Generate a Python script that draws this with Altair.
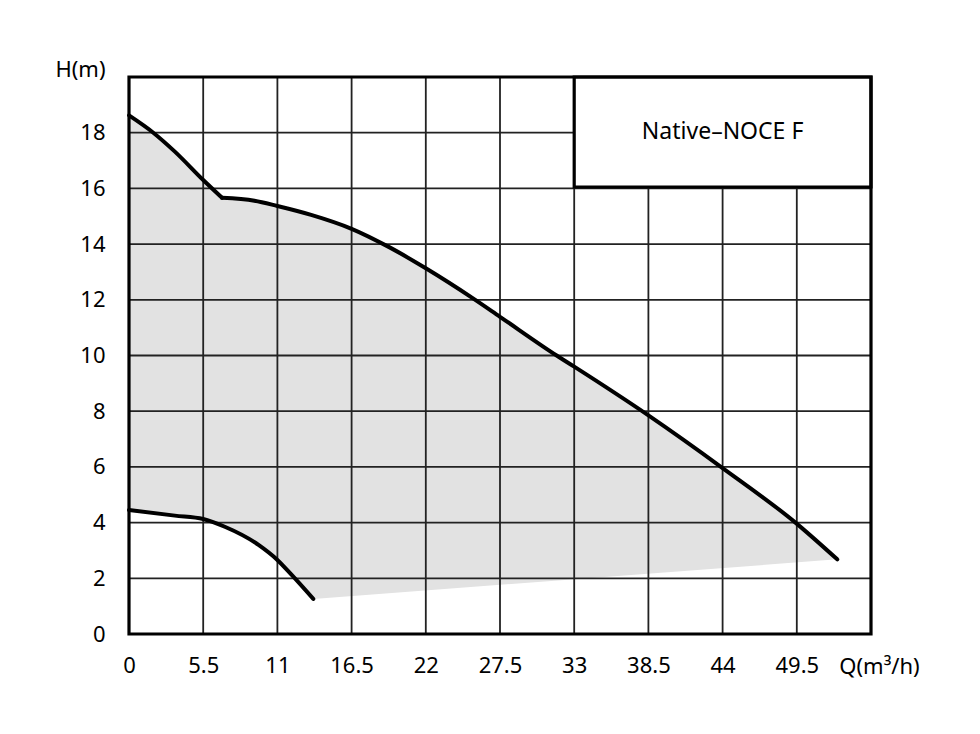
import altair as alt
import pandas as pd

# ---- data ----
upper_q_a = [0, 1.8, 3.4, 5.5, 6.9]
upper_h_a = [18.62, 18.0, 17.32, 16.3, 15.66]
upper_q_b = [6.9, 9.3, 11, 13.5, 16.5, 19.25, 22, 25.5, 27.5, 31.7, 33, 38.5, 44, 49.4, 52.5]
upper_h_b = [15.66, 15.56, 15.37, 15.05, 14.55, 13.9, 13.13, 12.05, 11.39, 10.0, 9.6, 7.85, 5.96, 4.0, 2.68]

lower_q = [0, 3.4, 5.5, 7.1, 9.6, 11, 12.06, 13.66]
lower_h = [4.45, 4.25, 4.13, 3.85, 3.2, 2.66, 2.12, 1.26]

# end of the operating range (lower edge of the shaded field)
range_end_q = [52.5]
range_end_h = [2.68]

x_ticks = [0, 5.5, 11, 16.5, 22, 27.5, 33, 38.5, 44, 49.5]
y_ticks = [0, 2, 4, 6, 8, 10, 12, 14, 16, 18]
x_max = 55
y_max = 20

label_text = "Native–NOCE F"
label_box_q = [33, 55]
label_box_h = [16.05, 20]

# ---- tables ----
upper = pd.DataFrame({
    "q": upper_q_a + upper_q_b,
    "h": upper_h_a + upper_h_b,
    "seg": ["a"] * len(upper_q_a) + ["b"] * len(upper_q_b),
})
upper_area = pd.DataFrame({"q": upper_q_a + upper_q_b[1:], "h": upper_h_a + upper_h_b[1:]})
lower = pd.DataFrame({"q": lower_q, "h": lower_h})
lower_edge = pd.DataFrame({"q": lower_q + range_end_q + [x_max], "h": lower_h + range_end_h + range_end_h})
vgrid = pd.DataFrame({"q": x_ticks[1:]})
hgrid = pd.DataFrame({"h": y_ticks[1:]})
box = pd.DataFrame({"q": [label_box_q[0]], "q2": [label_box_q[1]],
                    "h": [label_box_h[0]], "h2": [label_box_h[1]]})
txt = pd.DataFrame({"q": [(label_box_q[0] + label_box_q[1]) / 2],
                    "h": [(label_box_h[0] + label_box_h[1]) / 2], "t": [label_text]})
frame = pd.DataFrame({"q": [0], "q2": [x_max], "h": [0], "h2": [y_max]})

FONT = "Noto Sans"
xs = alt.Scale(domain=[0, x_max], nice=False, zero=False)
ys = alt.Scale(domain=[0, y_max], nice=False, zero=False)

x_axis = alt.Axis(values=x_ticks, grid=False, domain=False, ticks=False, tickSize=0,
                  labelPadding=21, labelFontSize=22, labelFont=FONT, labelColor="black",
                  labelFlush=False, format=".3~g",
                  title="Q(m³/h)", titleFont=FONT, titleFontSize=22, titleFontWeight="normal",
                  titleColor="black", titleX=750, titleY=32, titleAlign="center",
                  titleBaseline="middle", titleAngle=0)
y_axis = alt.Axis(values=y_ticks, grid=False, domain=False, ticks=False, tickSize=0,
                  labelPadding=24, labelFontSize=22, labelFont=FONT, labelColor="black",
                  labelFlush=False, format=".3~g",
                  title="H(m)", titleFont=FONT, titleFontSize=22, titleFontWeight="normal",
                  titleColor="black", titleX=-49, titleY=-8, titleAlign="center",
                  titleBaseline="middle", titleAngle=0)

def X(field="q"):
    return alt.X(field, type="quantitative", scale=xs, axis=x_axis)

def Y(field="h"):
    return alt.Y(field, type="quantitative", scale=ys, axis=y_axis)

gray = alt.Chart(upper_area).mark_area(color="#e2e2e2", opacity=1, interpolate="monotone").encode(
    x=X(), y=Y())
white = alt.Chart(lower_edge).mark_area(color="white", opacity=1, interpolate="linear").encode(
    x=X(), y=Y())

vlines = alt.Chart(vgrid).mark_rule(color="#222222", strokeWidth=1.8).encode(x=X())
hlines = alt.Chart(hgrid).mark_rule(color="#222222", strokeWidth=1.8).encode(y=Y())

up_line = alt.Chart(upper).mark_line(color="black", strokeWidth=4, interpolate="monotone",
                                     strokeCap="round", strokeJoin="round").encode(
    x=X(), y=Y(), detail="seg:N", order="q:Q")
low_line = alt.Chart(lower).mark_line(color="black", strokeWidth=4, interpolate="monotone",
                                      strokeCap="round").encode(x=X(), y=Y())

box_rect = alt.Chart(box).mark_rect(fill="white", stroke="black", strokeWidth=3.2).encode(
    x=X(), x2="q2", y=Y(), y2="h2")
box_text = alt.Chart(txt).mark_text(font=FONT, fontSize=23, color="black",
                                    align="center", baseline="middle").encode(
    x=X(), y=Y(), text="t:N")
frame_rect = alt.Chart(frame).mark_rect(filled=False, stroke="black", strokeWidth=3.2).encode(
    x=X(), x2="q2", y=Y(), y2="h2")

chart = alt.layer(gray, white, vlines, hlines, up_line, low_line, box_rect, box_text, frame_rect).properties(
    width=742, height=557,
    padding={"left": 121, "top": 69, "right": 60, "bottom": 60},
    autosize=alt.AutoSizeParams(type="none"),
).configure_view(stroke=None).configure(background="white")

chart.save("out.html", embed_options={"renderer": "svg", "actions": False})
